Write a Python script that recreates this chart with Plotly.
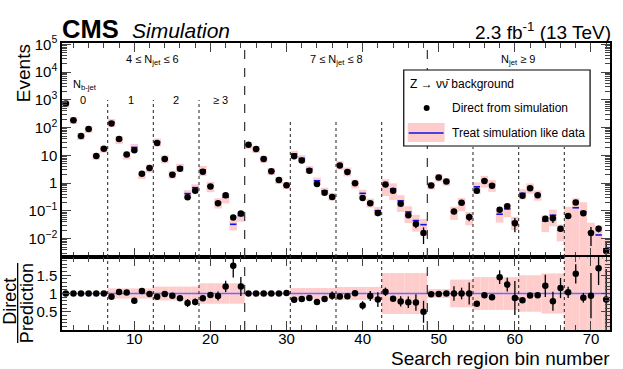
import math
import plotly.graph_objects as go

# search region bins 1..72
bins = list(range(1, 73))

# direct from simulation (events)
direct = [745, 186, 50, 89, 9.6, 17.3,
          142, 39, 10.8, 15.5, 2.2, 3.5,
          28, 7.5, 2.0, 3.3, 0.31, 0.53,
          2.6, 0.76, 0.19, 0.37, 0.058, 0.081,
          24, 17, 7.5, 2.7, 1.3, 0.85,
          9.4, 6.6, 2.8, 0.94, 0.45, 0.32,
          4.3, 2.5, 1.0, 0.29, 0.19, 0.085,
          0.90, 0.53, 0.18, 0.07, 0.034, 0.016,
          0.83, 1.6, 1.15, 0.095, 0.195, 0.061,
          0.53, 1.2, 0.80, 0.11, 0.148, 0.036,
          0.35, 0.66, 0.37, 0.052, 0.055, 0.023,
          0.066, 0.20, 0.083, 0.016, 0.023, 0.0036]

# treat simulation like data (prediction)
prediction = [745, 186, 50, 89, 9.6, 17.3,
              156, 37.5, 10.5, 19.4, 2.06, 3.54,
              30.8, 7.6, 2.13, 3.8, 0.42, 0.69,
              3.0, 0.79, 0.204, 0.31, 0.033, 0.068,
              24, 17, 7.5, 2.7, 1.3, 0.84,
              11.3, 7.8, 3.2, 1.22, 0.53, 0.34,
              4.7, 2.7, 0.99, 0.43, 0.204, 0.102,
              0.86, 0.62, 0.23, 0.092, 0.045, 0.032,
              0.85, 1.62, 1.15, 0.095, 0.195, 0.061,
              0.74, 1.26, 0.89, 0.076, 0.119, 0.041,
              0.43, 0.70, 0.39, 0.043, 0.070, 0.020,
              0.064, 0.13, 0.094, 0.017, 0.0136, 0.0043]

# relative stat. error of direct simulation
direct_err = [0.01, 0.01, 0.01, 0.01, 0.02, 0.02,
              0.02, 0.02, 0.03, 0.05, 0.05, 0.04,
              0.03, 0.04, 0.06, 0.07, 0.15, 0.12,
              0.05, 0.08, 0.13, 0.13, 0.18, 0.22,
              0.01, 0.01, 0.02, 0.03, 0.04, 0.05,
              0.03, 0.03, 0.04, 0.06, 0.06, 0.12,
              0.03, 0.04, 0.06, 0.17, 0.15, 0.24,
              0.11, 0.06, 0.18, 0.21, 0.30, 0.60,
              0.05, 0.04, 0.05, 0.20, 0.16, 0.30,
              0.06, 0.04, 0.05, 0.13, 0.15, 0.53,
              0.08, 0.06, 0.07, 0.25, 0.33, 0.24,
              0.15, 0.17, 0.15, 0.66, 0.27, 1.00]

# relative uncertainty of prediction (ratio band)
ratio_unc = [0.03, 0.03, 0.03, 0.03, 0.03, 0.03,
             0.14, 0.14, 0.14, 0.14, 0.14, 0.14,
             0.19, 0.19, 0.19, 0.19, 0.19, 0.19,
             0.28, 0.28, 0.28, 0.28, 0.28, 0.28,
             0.04, 0.04, 0.04, 0.04, 0.04, 0.04,
             0.15, 0.15, 0.15, 0.15, 0.15, 0.15,
             0.18, 0.18, 0.18, 0.18, 0.18, 0.18,
             0.56, 0.56, 0.56, 0.56, 0.56, 0.56,
             0.12, 0.12, 0.12, 0.38, 0.38, 0.38,
             0.45, 0.45, 0.45, 0.45, 0.45, 0.45,
             0.50, 0.50, 0.50, 0.55, 0.55, 0.55,
             1.30, 1.30, 1.30, 1.30, 1.30, 1.30]

# relative uncertainty drawn as boxes in the upper panel
box_unc = [0.28, 0.28, 0.28, 0.28, 0.28, 0.28,
           0.32, 0.32, 0.32, 0.32, 0.32, 0.32,
           0.32, 0.32, 0.32, 0.32, 0.32, 0.32,
           0.40, 0.40, 0.40, 0.40, 0.40, 0.40,
           0.28, 0.28, 0.28, 0.28, 0.28, 0.28,
           0.30, 0.30, 0.30, 0.30, 0.30, 0.30,
           0.35, 0.35, 0.35, 0.35, 0.35, 0.35,
           0.60, 0.60, 0.60, 0.60, 0.60, 0.60,
           0.30, 0.30, 0.30, 0.50, 0.50, 0.50,
           0.45, 0.45, 0.45, 0.50, 0.50, 0.50,
           0.40, 0.40, 0.40, 0.60, 0.60, 0.60,
           1.20, 1.20, 1.20, 1.20, 1.20, 1.20]

# region boundaries
njet_edges = [24.5, 48.5]
nb_edges = [6.5, 12.5, 18.5, 30.5, 36.5, 42.5, 54.5, 60.5, 66.5]
nb_edge_tops = [1000, 1000, 1000, 200, 200, 200, 20, 20, 20]

W, H = 623, 369
L, R, T, B = 62, 612, 43, 330
SPLIT = 257
YMIN, YMAX = -2.66, 5.05
FONT = "Liberation Sans, Arial, sans-serif"
PINK = "#ffcccc"
BLUE = "#1010ee"


def px_x(px):
    return (px - L) / (R - L)


def px_y(py):
    return (B - py) / (B - T)


split_frac = px_y(SPLIT)

ratio = [d / p for d, p in zip(direct, prediction)]

fig = go.Figure()

# upper panel: uncertainty boxes
lo = [max(p * (1 - u), 1e-4) for p, u in zip(prediction, box_unc)]
hi = [p * (1 + u) for p, u in zip(prediction, box_unc)]
fig.add_trace(go.Bar(x=bins, y=[h - l for h, l in zip(hi, lo)], base=lo, width=1,
                     marker=dict(color=PINK, line=dict(width=0)),
                     xaxis="x", yaxis="y", showlegend=False, hoverinfo="skip"))

# upper panel: prediction segments
sx, sy = [], []
for b, p in zip(bins, prediction):
    sx += [b - 0.42, b + 0.42, None]
    sy += [p, p, None]
fig.add_trace(go.Scatter(x=sx, y=sy, mode="lines", line=dict(color=BLUE, width=1.6),
                         xaxis="x", yaxis="y", showlegend=False, hoverinfo="skip"))

# upper panel: direct points
fig.add_trace(go.Scatter(
    x=bins, y=direct, mode="markers",
    marker=dict(color="black", size=6.5),
    error_y=dict(type="data", symmetric=False,
                 array=[d * e for d, e in zip(direct, direct_err)],
                 arrayminus=[min(d * e, d * 0.999) for d, e in zip(direct, direct_err)],
                 color="black", thickness=1.3, width=0),
    xaxis="x", yaxis="y", showlegend=False))

# lower panel: band, unity line and ratio points
rlo = [max(1 - u, 0) for u in ratio_unc]
rhi = [min(1 + u, 2.5) for u in ratio_unc]
fig.add_trace(go.Bar(x=bins, y=[h - l for h, l in zip(rhi, rlo)], base=rlo, width=1,
                     marker=dict(color=PINK, line=dict(width=0)),
                     xaxis="x2", yaxis="y2", showlegend=False, hoverinfo="skip"))
fig.add_trace(go.Scatter(x=[0.5, 72.5], y=[1, 1], mode="lines",
                         line=dict(color="#6a6aff", width=1.6),
                         xaxis="x2", yaxis="y2", showlegend=False, hoverinfo="skip"))
fig.add_trace(go.Scatter(
    x=bins, y=ratio, mode="markers",
    marker=dict(color="black", size=6.5),
    error_y=dict(type="data", array=[r * e for r, e in zip(ratio, direct_err)],
                 color="black", thickness=1.3, width=0),
    xaxis="x2", yaxis="y2", showlegend=False))

shapes = []
for xe in njet_edges:
    for yr in ["y domain", "y2 domain"]:
        shapes.append(dict(type="line", xref="x", yref=yr, x0=xe, x1=xe, y0=0, y1=1,
                           line=dict(color="#333333", width=1.2, dash="dash"), layer="above"))
for xe, top in zip(nb_edges, nb_edge_tops):
    frac = (math.log10(top) - YMIN) / (YMAX - YMIN)
    shapes.append(dict(type="line", xref="x", yref="y domain", x0=xe, x1=xe, y0=0, y1=frac,
                       line=dict(color="#333333", width=1.1, dash="dot"), layer="above"))
    shapes.append(dict(type="line", xref="x2", yref="y2 domain", x0=xe, x1=xe, y0=0, y1=1,
                       line=dict(color="#333333", width=1.1, dash="dot"), layer="above"))

# legend frame and symbols
shapes.append(dict(type="rect", xref="paper", yref="paper",
                   x0=px_x(405), x1=px_x(592), y0=px_y(146), y1=px_y(70),
                   fillcolor="white", line=dict(color="black", width=1.2), layer="above"))
shapes.append(dict(type="rect", xref="paper", yref="paper",
                   x0=px_x(409), x1=px_x(446), y0=px_y(142), y1=px_y(123),
                   fillcolor=PINK, line=dict(width=0), layer="above"))
shapes.append(dict(type="line", xref="paper", yref="paper",
                   x0=px_x(410), x1=px_x(445), y0=px_y(133), y1=px_y(133),
                   line=dict(color=BLUE, width=1.6), layer="above"))
shapes.append(dict(type="circle", xref="paper", yref="paper",
                   x0=px_x(425), x1=px_x(431), y0=px_y(111), y1=px_y(105),
                   fillcolor="black", line=dict(color="black", width=0), layer="above"))

# ratio title fraction line
shapes.append(dict(type="line", xref="paper", yref="paper",
                   x0=px_x(17.5), x1=px_x(17.5), y0=px_y(343), y1=px_y(263),
                   line=dict(color="black", width=1.3)))

ann = []


def text(px, py, s, size, xanchor="center", yanchor="middle", angle=0):
    ann.append(dict(x=px_x(px), y=px_y(py), xref="paper", yref="paper", text=s,
                    showarrow=False, xanchor=xanchor, yanchor=yanchor, textangle=angle,
                    borderpad=0, font=dict(family=FONT, size=size, color="black")))


text(61, 29, "<b>CMS</b>", 25.5, xanchor="left")
text(131, 31, "<i>Simulation</i>", 21, xanchor="left")
text(614, 31, "2.3 fb<sup>-1</sup> (13 TeV)", 19, xanchor="right")
text(23, 43, "Events", 19, yanchor="top", angle=-90)
text(613, 358, "Search region bin number", 19, xanchor="right")
text(9.5, 301, "Direct", 18, angle=-90)
text(27, 303, "Prediction", 18, angle=-90)

text(153, 60, "4 ≤ N<sub>jet</sub> ≤ 6", 11)
text(337, 60, "7 ≤ N<sub>jet</sub> ≤ 8", 11)
text(520, 60, "N<sub>jet</sub> ≥ 9", 11)
text(72, 85, "N<sub>b-jet</sub>", 11, xanchor="left")
text(83, 100, "0", 11)
text(131, 100, "1", 11)
text(176, 100, "2", 11)
text(221, 100, "≥ 3", 11)

text(410, 84, "Z → νν̄ background", 12, xanchor="left")
text(452, 108, "Direct from simulation", 12, xanchor="left")
text(452, 133, "Treat simulation like data", 12, xanchor="left")

fig.update_layout(
    width=W, height=H,
    margin=dict(l=L, r=W - R, t=T, b=H - B, pad=0),
    paper_bgcolor="white", plot_bgcolor="white",
    font=dict(family=FONT, size=15, color="black"),
    barmode="overlay", showlegend=False,
    shapes=shapes, annotations=ann,
    xaxis=dict(domain=[0, 1], anchor="y", range=[0.5, 72.5], showticklabels=False,
               ticks="inside", ticklen=9, tickvals=[10, 20, 30, 40, 50, 60, 70],
               minor=dict(ticks="inside", ticklen=5, dtick=2, tick0=0),
               showline=True, linecolor="black", linewidth=1.5, mirror="ticks",
               showgrid=False, zeroline=False),
    yaxis=dict(domain=[split_frac, 1], anchor="x", type="log", range=[YMIN, YMAX],
               tickvals=[1e-2, 1e-1, 1, 10, 1e2, 1e3, 1e4, 1e5],
               ticktext=["10<sup>−2</sup>", "10<sup>−1</sup>", "1", "10",
                         "10<sup>2</sup>", "10<sup>3</sup>", "10<sup>4</sup>", "10<sup>5</sup>"],
               ticks="inside", ticklen=9,
               minor=dict(ticks="inside", ticklen=5,
                          tickvals=[k * 10 ** e for e in range(-3, 5) for k in range(2, 10)]),
               showline=True, linecolor="black", linewidth=1.5, mirror="ticks",
               showgrid=False, zeroline=False, tickfont=dict(size=15)),
    xaxis2=dict(domain=[0, 1], anchor="y2", range=[0.5, 72.5], matches="x",
                tickvals=[10, 20, 30, 40, 50, 60, 70], ticks="inside", ticklen=9,
                minor=dict(ticks="inside", ticklen=5, dtick=2, tick0=0),
                ticklabelstandoff=-6,
                showline=True, linecolor="black", linewidth=1.5, mirror="ticks",
                showgrid=False, zeroline=False, tickfont=dict(size=15)),
    yaxis2=dict(domain=[0, split_frac], anchor="x2", range=[0, 2],
                tickvals=[0.5, 1, 1.5], ticktext=["0.5", "1", "1.5"],
                ticks="inside", ticklen=9,
                minor=dict(ticks="inside", ticklen=5, dtick=0.1, tick0=0),
                showline=True, linecolor="black", linewidth=1.5, mirror="ticks",
                showgrid=False, zeroline=False, tickfont=dict(size=15)),
)

# the page body has a default 8px margin; drop it so the figure sits at the window origin
fig.write_html("out.html", config={"displayModeBar": False},
               post_script="document.body.style.margin='0';")
